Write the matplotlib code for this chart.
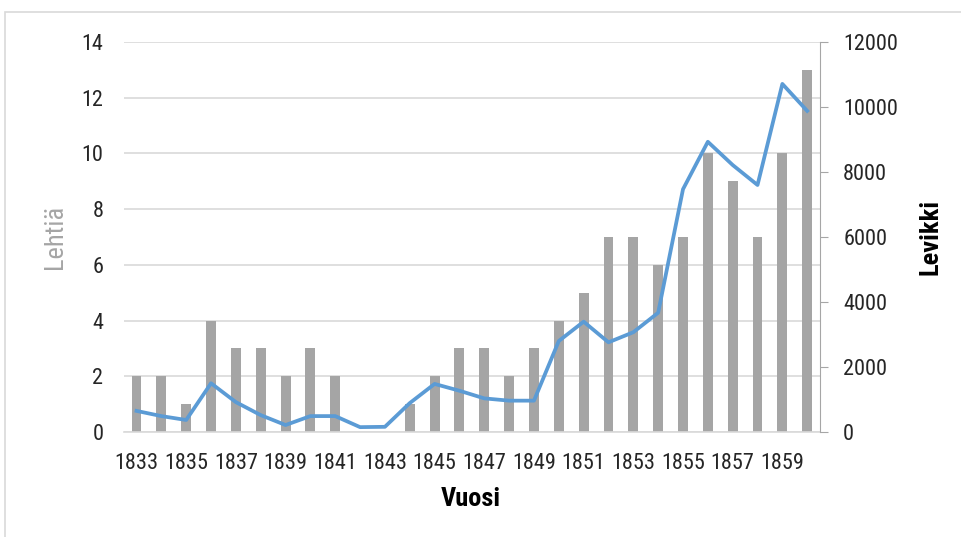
import matplotlib.pyplot as plt
from matplotlib.patches import Rectangle
from matplotlib import font_manager

years = list(range(1833, 1861))
lehtia = [2, 2, 1, 4, 3, 3, 2, 3, 2, 0, 0, 1, 2, 3, 3, 2, 3, 4, 5, 7, 7, 6, 7, 10, 9, 7, 10, 13]
levikki = [650, 490, 370, 1500, 920, 520, 215, 490, 490, 150, 160, 890, 1480, 1270,
           1035, 965, 965, 2800, 3395, 2760, 3070, 3670, 7470, 8930, 8215, 7600, 10710, 9880]

# narrow font with a real bold (the original looks like Arial Narrow)
weights = {}
for f in font_manager.fontManager.ttflist:
    weights.setdefault(f.name, set()).add(f.weight)
fam = "Liberation Sans"
for name in ["Liberation Sans Narrow", "Roboto Condensed", "Barlow Semi Condensed",
             "Asap Condensed", "Barlow Condensed"]:
    if name in weights and 700 in weights[name]:
        fam = name
        break
plt.rcParams["font.family"] = [fam, "DejaVu Sans"]

fig = plt.figure(figsize=(9.62, 5.37), dpi=100)
ax = fig.add_axes([0.129, 0.1955, 0.723, 0.7263])
ax2 = ax.twinx()

x = list(range(len(years)))
ax.bar(x, lehtia, width=0.4, color="#A5A5A5", zorder=2)
ax2.plot(x, levikki, color="#5B9BD5", linewidth=2.7, zorder=3)

ax.set_xlim(-0.5, len(years) - 0.5)
ax.set_ylim(0, 14)
ax.set_yticks(range(0, 15, 2))
ax2.set_ylim(0, 12000)
ax2.set_yticks(range(0, 12001, 2000))

ax.set_xticks(x[::2])
ax.set_xticklabels([str(y) for y in years[::2]])
ax.grid(axis="y", color="#D9D9D9", linewidth=1.2, zorder=0)
ax.set_axisbelow(True)

for a in (ax, ax2):
    for s in a.spines.values():
        s.set_visible(False)
ax.spines["bottom"].set_visible(True)
ax.spines["bottom"].set_color("#D9D9D9")
ax.spines["bottom"].set_linewidth(1.2)
ax2.spines["right"].set_visible(True)
ax2.spines["right"].set_color("#A6A6A6")

ax.tick_params(axis="x", length=0, labelsize=16, pad=15, colors="#262626")
ax.tick_params(axis="y", length=0, labelsize=16, pad=15, colors="#262626")
ax2.tick_params(axis="y", length=6, direction="out", labelsize=16, pad=11,
                colors="#262626")
ax2.tick_params(axis="y", color="#A6A6A6")

ax.set_xlabel("Vuosi", fontsize=19, fontweight="bold", color="black")
ax.set_ylabel("Lehtiä", fontsize=19, color="#A5A5A5")
ax2.set_ylabel("Levikki", fontsize=19, fontweight="bold", color="black")
ax.xaxis.set_label_coords(0.499, -0.141)
ax.yaxis.set_label_coords(-0.082, 0.5)
ax2.yaxis.set_label_coords(1.1415, 0.5)

fig.patches.append(Rectangle((5 / 962, -0.1), 1.2, 1 - 12 / 537 + 0.1,
                             transform=fig.transFigure, fill=False,
                             edgecolor="#D9D9D9", linewidth=1.2))

fig.savefig("out.png", dpi=100)
